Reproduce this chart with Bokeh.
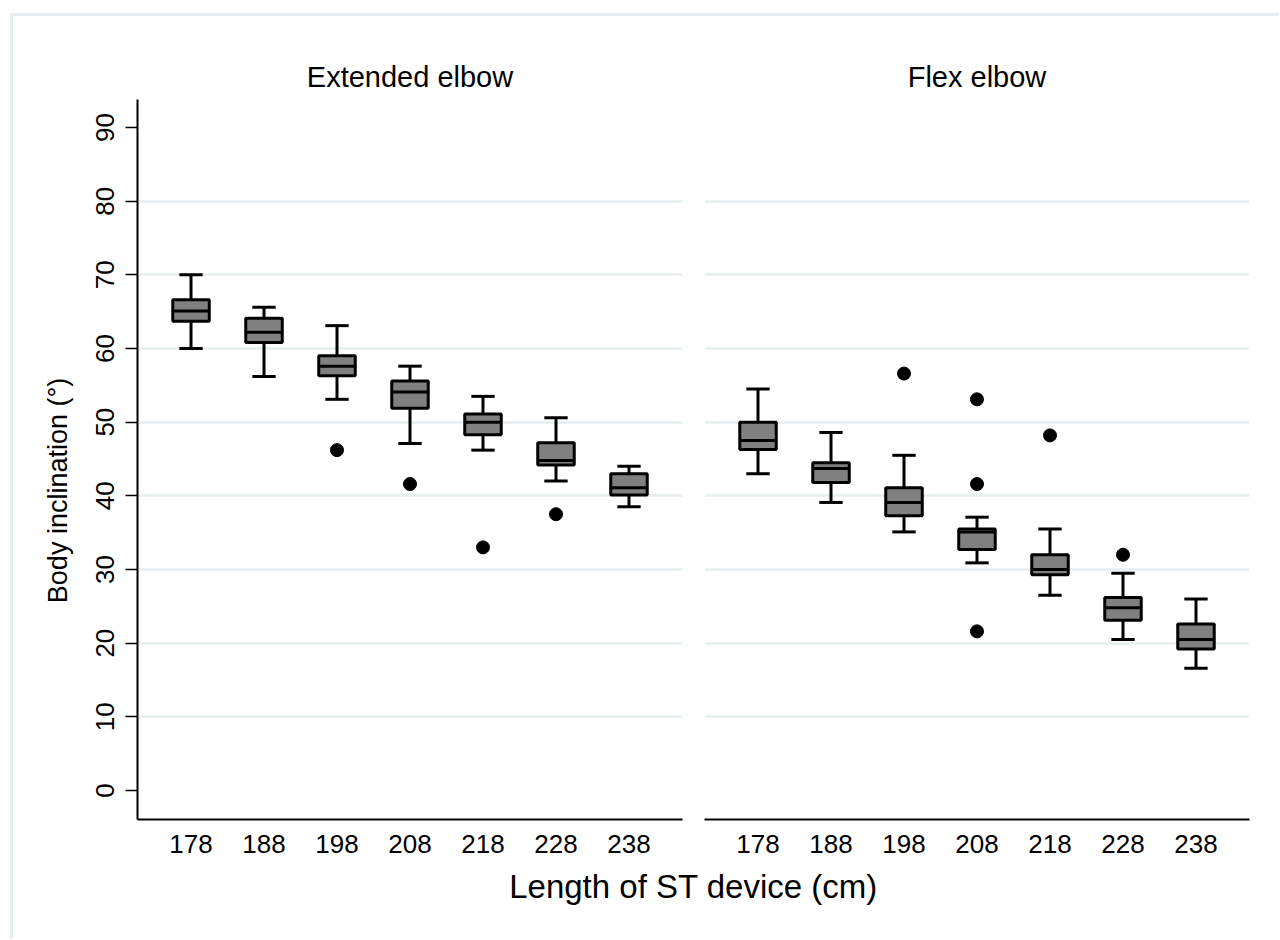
import numpy as np
from bokeh.plotting import figure
from bokeh.layouts import row, column
from bokeh.models import Range1d, FixedTicker, Grid
from bokeh.core.properties import value
from bokeh.embed import file_html
from bokeh.resources import INLINE

# ---------------- data ----------------
categories = ["178", "188", "198", "208", "218", "228", "238"]
panel_titles = ["Extended elbow", "Flex elbow"]
y_ticks = [0, 10, 20, 30, 40, 50, 60, 70, 80, 90]
grid_ticks = [10, 20, 30, 40, 50, 60, 70, 80]
x_title = "Length of ST device (cm)"
y_title = "Body inclination (°)"

ext_low = [60.0, 56.2, 53.1, 47.1, 46.2, 42.0, 38.5]
ext_q1 = [63.7, 60.8, 56.3, 51.9, 48.3, 44.2, 40.1]
ext_med = [65.1, 62.2, 57.6, 54.1, 50.0, 44.8, 41.1]
ext_q3 = [66.6, 64.1, 59.0, 55.6, 51.1, 47.2, 43.0]
ext_high = [70.0, 65.6, 63.1, 57.6, 53.5, 50.6, 44.0]
ext_out_cat = ["198", "208", "218", "228"]
ext_out_val = [46.2, 41.6, 33.0, 37.5]

flex_low = [43.0, 39.1, 35.1, 30.9, 26.5, 20.5, 16.6]
flex_q1 = [46.3, 41.8, 37.3, 32.7, 29.3, 23.1, 19.2]
flex_med = [47.5, 43.7, 39.1, 35.1, 30.0, 24.8, 20.5]
flex_q3 = [50.0, 44.5, 41.1, 35.5, 32.0, 26.2, 22.6]
flex_high = [54.5, 48.6, 45.5, 37.1, 35.5, 29.5, 26.0]
flex_out_cat = ["198", "208", "208", "208", "218", "228"]
flex_out_val = [56.6, 53.1, 41.6, 21.6, 48.2, 32.0]

# ---------------- style / layout ----------------
FONT = "Liberation Sans"
BOX_FILL = "#808080"
INK = "#000000"
GRID_COLOR = "#e6eef0"
FRAME_W, FRAME_H = 545, 720
YT_W = 64                      # width of the y-title strip
LEFT_B = 124 - YT_W            # left border of the left panel
TOP_B, BOTTOM_B, GAP, RIGHT_B = 83, 46, 11, 30
BOX_W, CAP_HALF = 0.5, 0.16
LW = 3
X_RANGE = (-0.733, 6.733)
Y_RANGE = (-3.94, 93.8)
PANEL_H = TOP_B + FRAME_H + BOTTOM_B
ORIGIN_X, ORIGIN_Y = 13, 16    # page position of the layout content

pos = np.arange(len(categories))
cat_index = {c: i for i, c in enumerate(categories)}


def make_panel(title, low, q1, med, q3, high, out_cat, out_val, with_yaxis):
    p = figure(
        frame_width=FRAME_W, frame_height=FRAME_H,
        x_range=Range1d(*X_RANGE), y_range=Range1d(*Y_RANGE),
        toolbar_location=None, output_backend="svg",
        y_axis_location="left" if with_yaxis else None,
        min_border_left=LEFT_B if with_yaxis else GAP,
        min_border_right=GAP if with_yaxis else RIGHT_B,
        min_border_top=TOP_B, min_border_bottom=BOTTOM_B,
        title=title,
    )
    p.outline_line_color = None
    p.background_fill_color = "white"
    p.border_fill_color = "white"
    p.grid.visible = False
    p.add_layout(Grid(dimension=1, ticker=FixedTicker(ticks=grid_ticks),
                      grid_line_color=GRID_COLOR, grid_line_width=2.5))

    p.title.align = "center"
    p.title.text_font = FONT
    p.title.text_font_size = "29px"
    p.title.text_font_style = "normal"
    p.title.text_color = INK
    p.title.standoff = 14

    xa = p.xaxis[0]
    xa.ticker = FixedTicker(ticks=list(pos))
    xa.major_label_overrides = {int(i): c for i, c in zip(pos, categories)}
    xa.major_tick_out = 0
    xa.major_tick_in = 0
    xa.minor_tick_out = 0
    xa.minor_tick_in = 0
    xa.axis_line_color = INK
    xa.axis_line_width = 2
    xa.major_label_text_font = FONT
    xa.major_label_text_font_size = "26px"
    xa.major_label_text_color = INK
    xa.major_label_standoff = 15

    if with_yaxis:
        ya = p.yaxis[0]
        ya.ticker = FixedTicker(ticks=y_ticks)
        ya.major_label_orientation = "vertical"
        ya.major_tick_out = 12
        ya.major_tick_in = 0
        ya.minor_tick_out = 0
        ya.minor_tick_in = 0
        ya.major_tick_line_width = 1.5
        ya.major_tick_line_color = INK
        ya.axis_line_color = INK
        ya.axis_line_width = 2
        ya.major_label_text_font = FONT
        ya.major_label_text_font_size = "26px"
        ya.major_label_text_color = INK
        ya.major_label_standoff = 11

    # whisker stems
    p.segment(x0=pos, x1=pos, y0=q3, y1=high, line_color=INK, line_width=LW)
    p.segment(x0=pos, x1=pos, y0=low, y1=q1, line_color=INK, line_width=LW)
    # caps
    p.segment(x0=pos - CAP_HALF, x1=pos + CAP_HALF, y0=high, y1=high,
              line_color=INK, line_width=LW)
    p.segment(x0=pos - CAP_HALF, x1=pos + CAP_HALF, y0=low, y1=low,
              line_color=INK, line_width=LW)
    # boxes
    p.vbar(x=pos, width=BOX_W, bottom=q1, top=q3, fill_color=BOX_FILL,
           line_color=INK, line_width=LW)
    # medians
    p.segment(x0=pos - BOX_W / 2, x1=pos + BOX_W / 2, y0=med, y1=med,
              line_color=INK, line_width=LW)
    # outliers
    ox = [cat_index[c] for c in out_cat]
    p.scatter(x=ox, y=out_val, size=13, marker="circle",
              fill_color=INK, line_color=INK)
    return p


def text_strip(w, h, txt, x, y, size, angle=0.0):
    f = figure(width=w, height=h, x_range=Range1d(0, w), y_range=Range1d(0, h),
               toolbar_location=None, output_backend="svg",
               x_axis_location=None, y_axis_location=None,
               min_border=0, title=None)
    f.outline_line_color = None
    f.grid.visible = False
    f.text(x=[x], y=[y], text=[txt], angle=angle, text_align="center",
           text_baseline="middle", text_font=value(FONT),
           text_font_size=size, text_color=INK)
    return f


left = make_panel(panel_titles[0], ext_low, ext_q1, ext_med, ext_q3, ext_high,
                  ext_out_cat, ext_out_val, True)
right = make_panel(panel_titles[1], flex_low, flex_q1, flex_med, flex_q3, flex_high,
                   flex_out_cat, flex_out_val, False)

# y-axis title strip
ytf = text_strip(YT_W, PANEL_H, y_title, 57 - ORIGIN_X,
                 PANEL_H - (477 - ORIGIN_Y), "27px", angle=np.pi / 2)

left_w = YT_W + LEFT_B + FRAME_W + GAP
total_w = left_w + GAP + FRAME_W + RIGHT_B
TITLE_H = 74
xtf = text_strip(total_w, TITLE_H, x_title, left_w, TITLE_H - 21, "33px")

layout = column(row(ytf, left, right), xtf, margin=(13, 0, 0, 10),
                styles={"border-left": f"3px solid {GRID_COLOR}",
                        "border-top": f"3px solid {GRID_COLOR}"})

open("out.html", "w").write(file_html(layout, INLINE))
